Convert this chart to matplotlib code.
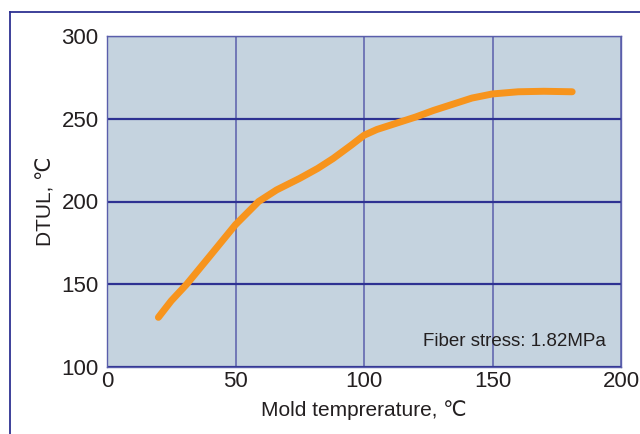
import matplotlib
matplotlib.use("Agg")
import matplotlib.pyplot as plt
from matplotlib.lines import Line2D

plt.rcParams['font.family'] = ['Liberation Sans', 'DejaVu Sans']

# mold temperature (C) vs DTUL (C)
mold_temp = [20, 25, 31, 40, 50, 59, 66, 75, 82, 88, 95, 100, 105, 110, 115, 120,
             127, 134, 142, 150, 160, 170, 181]
dtul = [130, 140, 150, 167, 186, 200, 207, 214, 220, 226, 234, 240, 243.5, 246, 248.5, 251,
        255, 258.5, 262.5, 265, 266.3, 266.6, 266.3]

xticks = [0, 50, 100, 150, 200]
yticks = [100, 150, 200, 250, 300]

navy = '#2e3192'

fig = plt.figure(figsize=(6.4, 4.34), dpi=100)
ax = fig.add_axes([107/640, 1 - 367/434, (621 - 107)/640, (367 - 36)/434])
ax.set_facecolor('#c5d3df')

ax.plot(mold_temp, dtul, color='#f7941d', lw=5, solid_capstyle='round',
        solid_joinstyle='round', zorder=3)

ax.set_xlim(0, 200)
ax.set_ylim(100, 300)
ax.set_xticks(xticks)
ax.set_yticks(yticks)
ax.tick_params(length=0, labelsize=16, pad=6, colors='#231f20')
ax.tick_params(axis='x', pad=3)

ax.grid(axis='y', color=navy, lw=1.6, zorder=1)
ax.grid(axis='x', color='#5a5eab', lw=1.1, zorder=1)
for s in ax.spines.values():
    s.set_color('#5a5eab')
    s.set_linewidth(1.0)

ax.set_xlabel('Mold temprerature, ℃', fontsize=15, color='#231f20', labelpad=6)
ax.set_ylabel('DTUL, ℃', fontsize=15, color='#231f20', labelpad=4)

ax.text(0.971, 0.077, 'Fiber stress: 1.82MPa', transform=ax.transAxes,
        ha='right', va='center', fontsize=13.5, color='#231f20')

# outer frame
x0 = 10/640
y0 = 1 - 12/434
fig.add_artist(Line2D([x0, 1.0], [y0, y0], color=navy, lw=1.3, transform=fig.transFigure))
fig.add_artist(Line2D([x0, x0], [0, y0], color=navy, lw=1.3, transform=fig.transFigure))

fig.savefig('out.png', dpi=100)
